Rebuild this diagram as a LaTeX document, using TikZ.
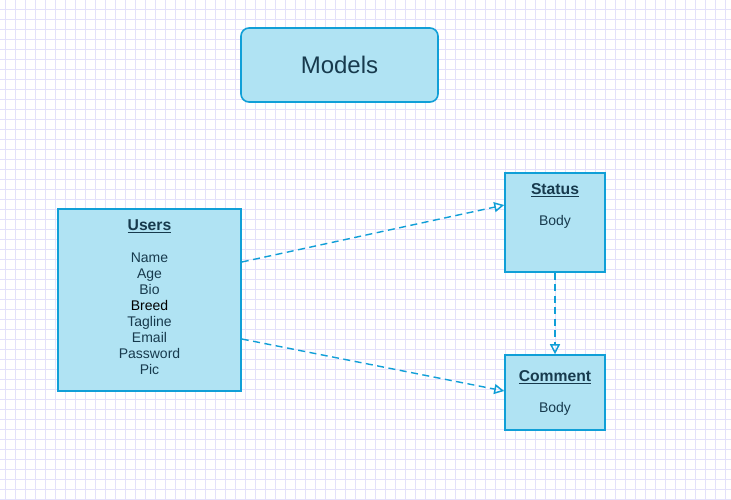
\documentclass[tikz,border=0pt]{standalone}
\usepackage{fontspec}
\setmainfont{Liberation Sans}
\usetikzlibrary{arrows.meta}

\definecolor{boxfill}{HTML}{B0E3F3}
\definecolor{boxline}{HTML}{109FD7}
\definecolor{textcol}{HTML}{173A4D}
\definecolor{gridcol}{HTML}{E3E1FA}

\tikzset{
  entity/.style={draw=boxline, fill=boxfill, line width=1.6pt, inner sep=0pt},
  title/.style={text=textcol, font=\fontsize{15.7}{18}\selectfont\bfseries},
  fields/.style={text=textcol, align=center, font=\fontsize{14}{16}\selectfont},
  link/.style={draw=boxline, line width=1.4pt, dash pattern=on 7pt off 4.5pt,
    -{Triangle[open, length=10pt, width=10pt, line width=1.5pt]}}
}

\begin{document}
\begin{tikzpicture}[x=1pt, y=-1pt]
    \useasboundingbox (0,0) rectangle (731,499);
    \fill[white] (0,0) rectangle (731,499);
    % background grid
    \foreach \gx in {5,15,...,725} \draw[gridcol, line width=1pt] (\gx,0) -- (\gx,499);
    \foreach \gy in {9,19,...,499} \draw[gridcol, line width=1pt] (0,\gy) -- (731,\gy);

    \node[entity, rounded corners=8pt, minimum width=197pt, minimum height=74pt,
      text=textcol, font=\fontsize{24}{28}\selectfont] (models) at (339.5,65) {Models};

    \node[entity, minimum width=183pt, minimum height=182pt] (users) at (149.5,300) {};
    \node[entity, minimum width=100pt, minimum height=99pt] (status) at (555,222.5) {};
    \node[entity, minimum width=100pt, minimum height=75pt] (comment) at (555,392.5) {};

    \node[title] (userstitle) at (149.5,226) {\underline{Users}};
    \node[fields] (usersbody) at (149.5,314) {Name\\Age\\Bio\\\textcolor{black}{Breed}\\Tagline\\Email\\Password\\Pic};

    \node[title] (statustitle) at (555,190) {\underline{Status}};
    \node[fields] (statusbody) at (555,222) {Body};

    \node[title] (commenttitle) at (555,377) {\underline{Comment}};
    \node[fields] (commentbody) at (555,409) {Body};

    \draw[link] ([yshift=38pt]users.east) -- ([yshift=17.5pt]status.west);
    \draw[link] ([yshift=-39pt]users.east) -- ([yshift=1.5pt]comment.west);
    \draw[link] (status.south) -- (comment.north);
\end{tikzpicture}
\end{document}
